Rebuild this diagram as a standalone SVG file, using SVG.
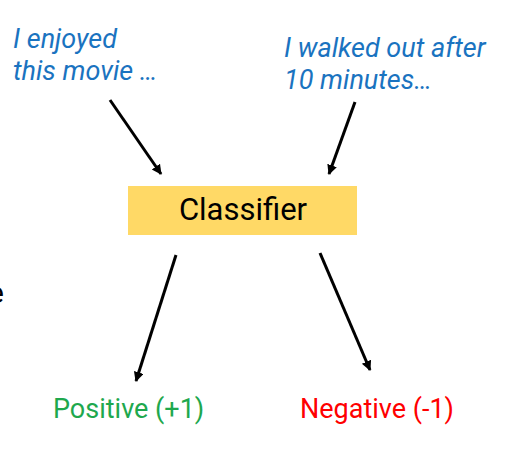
<svg xmlns="http://www.w3.org/2000/svg" width="524" height="469" viewBox="0 0 524 469">
<defs>
<marker id="ah" markerWidth="12" markerHeight="12" refX="9" refY="5" orient="auto" markerUnits="userSpaceOnUse">
<path d="M0,0 L10,5 L0,10 Z" fill="#000"/>
</marker>
</defs>
<style>
.q{font-family:Roboto,"Liberation Sans",sans-serif;font-style:italic;font-size:27px;fill:#1a73c0}
.c{stroke:#000;stroke-width:3;fill:none;marker-end:url(#ah)}
.lbl{font-family:Roboto,"Liberation Sans",sans-serif;font-size:27px}
</style>
<rect width="524" height="469" fill="#fff"/>
<g id="review1"><text class="q" x="13" y="48">I enjoyed</text><text class="q" x="13" y="80">this movie …</text></g>
<g id="review2"><text class="q" x="284" y="57">I walked out after</text><text class="q" x="284" y="89">10 minutes…</text></g>
<g id="classifier"><rect x="128" y="186" width="229" height="49" fill="#ffd966"/><text x="243" y="220" text-anchor="middle" font-family="Roboto,'Liberation Sans',sans-serif" font-size="31" fill="#000">Classifier</text></g>
<g id="positive"><text class="lbl" x="53" y="418" fill="#1ea84e">Positive (+1)</text></g>
<g id="negative"><text class="lbl" x="300" y="418" fill="#ff0000">Negative (-1)</text></g>
<g id="edge-text"><text x="-12" y="303" font-family="Roboto,'Liberation Sans',sans-serif" font-size="30" fill="#000">e</text></g>
<g id="connectors">
<line class="c" x1="110" y1="100" x2="161" y2="174"/>
<line class="c" x1="355" y1="102" x2="329" y2="174"/>
<line class="c" x1="176" y1="255" x2="136" y2="381"/>
<line class="c" x1="320" y1="253" x2="370" y2="370"/>
</g>
</svg>
